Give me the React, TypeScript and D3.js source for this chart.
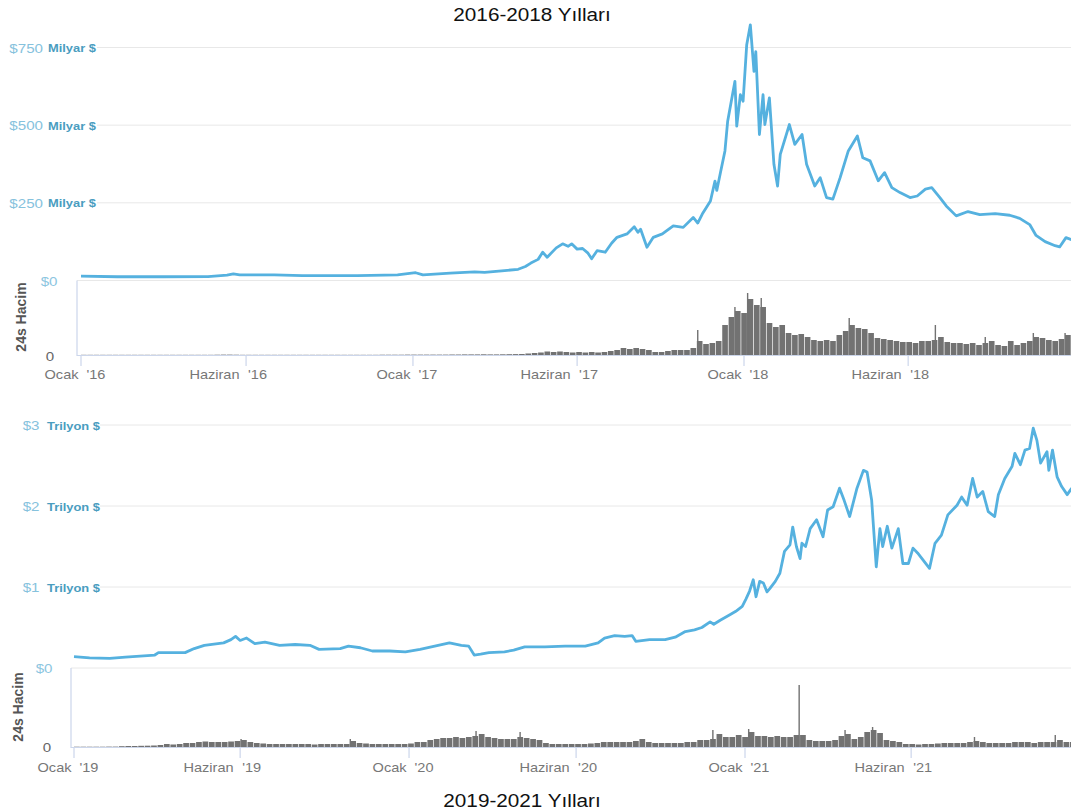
import React from "react";
import * as d3 from "d3";

// ---------- 2016-2018 data (market cap, billions USD) ----------
const topCap: [string, number][] = [
  ["2016-01-01",14],["2016-02-10",12],["2016-04-01",12],["2016-05-20",12.5],["2016-06-10",17],["2016-06-17",21],["2016-06-24",18],
  ["2016-08-01",18],["2016-09-01",15.5],["2016-11-01",16],["2016-12-15",18],["2017-01-04",25],["2017-01-12",18],["2017-02-11",24],
  ["2017-03-10",28],["2017-03-21",26],["2017-04-12",32],["2017-04-27",36],["2017-05-05",45],["2017-05-11",56],["2017-05-19",68],
  ["2017-05-24",91],["2017-05-29",75],["2017-06-08",105],["2017-06-15",118],["2017-06-21",110],["2017-06-25",118],["2017-07-01",101],
  ["2017-07-07",103],["2017-07-13",88],["2017-07-17",70],["2017-07-23",96],["2017-08-01",91],["2017-08-08",120],["2017-08-14",139],
  ["2017-08-25",150],["2017-09-02",173],["2017-09-06",155],["2017-09-09",165],["2017-09-16",107],["2017-09-23",139],["2017-10-03",150],
  ["2017-10-15",176],["2017-10-26",171],["2017-11-06",203],["2017-11-11",185],["2017-11-16",214],["2017-11-25",256],["2017-11-30",320],
  ["2017-12-02",290],["2017-12-06",347],["2017-12-11",417],["2017-12-14",513],["2017-12-19",593],["2017-12-22",641],["2017-12-24",497],
  ["2017-12-28",598],["2017-12-31",577],["2018-01-04",759],["2018-01-08",823],["2018-01-12",673],["2018-01-14",737],["2018-01-18",470],
  ["2018-01-22",598],["2018-01-24",502],["2018-01-29",588],["2018-02-03",374],["2018-02-07",304],["2018-02-10",406],["2018-02-20",502],
  ["2018-02-26",438],["2018-03-06",470],["2018-03-11",374],["2018-03-20",304],["2018-03-26",331],["2018-04-02",267],["2018-04-09",262],
  ["2018-04-17",331],["2018-04-26",417],["2018-05-06",465],["2018-05-12",395],["2018-05-20",385],["2018-05-29",321],["2018-06-05",347],
  ["2018-06-13",299],["2018-06-22",283],["2018-07-03",267],["2018-07-11",272],["2018-07-20",294],["2018-07-27",299],["2018-08-05",267],
  ["2018-08-12",240],["2018-08-23",208],["2018-09-05",222],["2018-09-18",212],["2018-10-05",215],["2018-10-21",210],["2018-11-01",200],
  ["2018-11-12",180],["2018-11-19",145],["2018-11-29",125],["2018-12-10",112],["2018-12-15",108],["2018-12-22",138],["2018-12-29",130],
];
const topVolStart = "2016-01-01";
const topVolWeekly: number[] = [
  0.2,0.2,0.2,0.2,0.2,0.2,0.2,0.2,0.2,0.2,
  0.2,0.2,0.2,0.2,0.2,0.2,0.2,0.2,0.2,0.2,
  0.2,0.3,0.4,0.4,0.3,0.2,0.2,0.2,0.2,0.2,
  0.2,0.2,0.2,0.2,0.2,0.2,0.2,0.2,0.2,0.2,
  0.2,0.2,0.2,0.2,0.2,0.2,0.2,0.3,0.3,0.3,
  0.3,0.4,0.4,0.4,0.4,0.4,0.4,0.4,0.5,0.5,
  0.6,0.6,0.6,0.7,0.6,0.6,0.7,0.8,0.9,1.0,
  1.5,2.0,2.5,3.5,3.0,3.5,3.0,2.5,3.0,2.5,
  3.0,2.5,3.0,4.0,5.0,7.0,6.0,7.0,6.0,5.0,
  3.0,3.0,4.0,5.0,5.0,5.0,7.0,14,11,12,
  14,30,38,44,42,56,50,48,32,28,
  30,22,20,21,18,15,14,15,14,20,
  24,30,27,26,22,17,16,15,14,13,
  13,12,14,14,15,18,13,12,12,11,
  12,10,12,14,10,9,14,10,12,14,
  18,17,15,14,16,20,18,
];
const topVolSpikes: [string, number][] = [
  ["2017-11-11",25],["2017-12-22",48],["2018-01-05",62],["2018-01-20",57],["2018-04-27",37],
  ["2018-07-31",30],["2018-09-24",18],["2018-11-16",22],["2018-12-21",22],
];
const topYTicks = [0, 250, 500, 750];
const topYLabels = ["$0", "$250", "$500", "$750"];
const topUnit = "Milyar $";
const topXTicks = ["2016-01-01","2016-07-01","2017-01-01","2017-07-01","2018-01-01","2018-07-01"];
const topXMonths = ["Ocak","Haziran","Ocak","Haziran","Ocak","Haziran"];
const topXYears = ["'16","'16","'17","'17","'18","'18"];
const topTitle = "2016-2018 Yılları";

// ---------- 2019-2021 data (market cap, trillions USD) ----------
const botCap: [string, number][] = [
  ["2019-01-01",0.14],["2019-01-18",0.125],["2019-02-09",0.12],["2019-02-26",0.135],["2019-03-30",0.16],["2019-04-03",0.19],
  ["2019-05-02",0.19],["2019-05-12",0.24],["2019-05-23",0.28],["2019-06-13",0.31],["2019-06-21",0.35],["2019-06-26",0.39],
  ["2019-07-01",0.34],["2019-07-08",0.37],["2019-07-17",0.30],["2019-07-28",0.32],["2019-08-13",0.28],["2019-08-30",0.29],
  ["2019-09-15",0.28],["2019-09-25",0.23],["2019-10-18",0.24],["2019-10-27",0.27],["2019-11-09",0.25],["2019-11-22",0.21],
  ["2019-12-11",0.21],["2019-12-28",0.20],["2020-01-13",0.23],["2020-01-29",0.27],["2020-02-14",0.31],["2020-02-27",0.28],
  ["2020-03-06",0.27],["2020-03-12",0.16],["2020-03-19",0.17],["2020-03-28",0.19],["2020-04-14",0.20],["2020-04-24",0.22],
  ["2020-05-06",0.26],["2020-05-28",0.26],["2020-06-19",0.27],["2020-07-11",0.27],["2020-07-25",0.31],["2020-08-01",0.37],
  ["2020-08-12",0.40],["2020-08-23",0.39],["2020-08-31",0.40],["2020-09-04",0.33],["2020-09-19",0.35],["2020-10-06",0.35],
  ["2020-10-17",0.38],["2020-10-28",0.45],["2020-11-07",0.47],["2020-11-15",0.50],["2020-11-24",0.57],["2020-11-28",0.54],
  ["2020-12-05",0.59],["2020-12-16",0.66],["2020-12-22",0.70],["2020-12-29",0.76],["2021-01-02",0.85],["2021-01-06",0.95],
  ["2021-01-10",1.09],["2021-01-13",0.88],["2021-01-17",1.07],["2021-01-21",1.05],["2021-01-25",0.94],["2021-01-28",0.98],
  ["2021-02-03",1.07],["2021-02-08",1.17],["2021-02-13",1.44],["2021-02-19",1.52],["2021-02-22",1.74],["2021-02-26",1.50],
  ["2021-03-02",1.35],["2021-03-04",1.54],["2021-03-08",1.50],["2021-03-13",1.72],["2021-03-20",1.83],["2021-03-27",1.62],
  ["2021-04-01",1.95],["2021-04-07",1.99],["2021-04-14",2.22],["2021-04-19",2.07],["2021-04-25",1.87],["2021-05-03",2.22],
  ["2021-05-10",2.44],["2021-05-14",2.42],["2021-05-19",2.07],["2021-05-21",1.74],["2021-05-24",1.25],["2021-05-28",1.72],
  ["2021-05-31",1.50],["2021-06-05",1.75],["2021-06-10",1.48],["2021-06-17",1.72],["2021-06-22",1.29],["2021-06-28",1.29],
  ["2021-07-03",1.48],["2021-07-08",1.42],["2021-07-21",1.23],["2021-07-27",1.54],["2021-08-03",1.64],["2021-08-10",1.89],
  ["2021-08-20",2.01],["2021-08-25",2.11],["2021-08-31",2.01],["2021-09-06",2.34],["2021-09-11",2.11],["2021-09-17",2.18],
  ["2021-09-23",1.93],["2021-09-30",1.87],["2021-10-04",2.14],["2021-10-11",2.34],["2021-10-19",2.49],["2021-10-22",2.65],
  ["2021-10-28",2.51],["2021-11-02",2.69],["2021-11-07",2.71],["2021-11-11",2.96],["2021-11-15",2.81],["2021-11-19",2.53],
  ["2021-11-26",2.67],["2021-11-28",2.44],["2021-12-02",2.69],["2021-12-07",2.36],["2021-12-12",2.24],["2021-12-18",2.14],
  ["2021-12-23",2.22],
];
const botVolStart = "2019-01-01";
const botVolWeekly: number[] = [
  0.3,0.3,0.3,0.3,0.3,0.4,0.4,0.8,1.0,1.0,
  1.2,1.3,1.5,2.0,3.0,2.5,3.0,4.0,4.0,5.0,
  5.5,5.0,5.0,5.0,5.5,6.0,7.0,5.0,4.0,3.5,
  3,3,3,3,3,3,3,2.5,3,3,
  3,3,3,6,4,3.5,3,3,3,3,
  3,3,3.5,5,5,7,8,9,9,10,
  9,10,11,13,10,9,8,8,8,10,
  9,8,7,4,3,3,3,3,3,3,
  3.5,4,5,5,5,5,5,6,8,5,
  4,4,4,4,4,5,5,7,7,8,
  13,10,10,12,10,15,11,11,10,11,
  10,10,12,12,7,6,6,6,7,11,
  13,8,10,15,17,14,7,6,5,3,
  3,2.5,3,3,3.5,4,4,4,4,5,
  6,5,4,4,4,4,5,5,5,4,
  5,5,5,7,5,5,
];
const botVolSpikes: [string, number][] = [
  ["2019-07-02",8],["2019-10-29",8],["2020-03-14",16],["2020-05-01",15],["2020-11-27",17],["2021-01-05",18],
  ["2021-03-01",62],["2021-04-20",17],["2021-05-20",20],["2021-09-08",10],["2021-12-05",12],
];
const botYTicks = [0, 1, 2, 3];
const botYLabels = ["$0", "$1", "$2", "$3"];
const botUnit = "Trilyon $";
const botXTicks = ["2019-01-01","2019-07-01","2020-01-01","2020-07-01","2021-01-01","2021-07-01"];
const botXMonths = ["Ocak","Haziran","Ocak","Haziran","Ocak","Haziran"];
const botXYears = ["'19","'19","'20","'20","'21","'21"];
const botTitle = "2019-2021 Yılları";

const volLabel = "24s Hacim";

// ---------- styling ----------
const W = 1071, H = 812;
const LINE = "#55b1df";
const GRID = "#e8e8e8";
const AXIS = "#ccd6eb";
const BAR = "#727272";
const FONT = "'Liberation Sans', Arial, sans-serif";
const SX = 1.12;

const parse = (s: string) => new Date(s + "T00:00:00Z");

function SText(props: { x: number; y: number; anchor?: string; size: number; fill: string; weight?: string | number; children: React.ReactNode }) {
  return (
    <text transform={`translate(${props.x},${props.y}) scale(${SX},1)`} textAnchor={props.anchor || "start"}
      fontSize={props.size} fill={props.fill} fontWeight={props.weight || "normal"} fontFamily={FONT}>
      {props.children}
    </text>
  );
}

type Layout = {
  xDom: [string, string]; xRange: [number, number];
  yMax: number; yRange: [number, number];
  vMax: number; vRange: [number, number];
  axisX: number; gridStart: number;
  valEnd: number; unitStart: number; zeroEnd: number;
  tickLen: number; labelY: number;
  zeroLabel: [number, number]; volLabelPos: [number, number];
  title: [number, number];
};

function Panel(p: {
  cap: [string, number][]; volStart: string; vol: number[]; spikes: [string, number][];
  yTicks: number[]; yLabels: string[]; unit: string;
  xTicks: string[]; months: string[]; years: string[]; title: string; L: Layout; id: string;
}) {
  const L = p.L;
  const x = d3.scaleUtc().domain(L.xDom.map(parse)).range(L.xRange);
  const y = d3.scaleLinear().domain([0, L.yMax]).range(L.yRange);
  const yv = d3.scaleLinear().domain([0, L.vMax]).range(L.vRange);
  const base = L.vRange[0];
  const line = d3.line<[string, number]>().x(d => x(parse(d[0]))).y(d => y(d[1]));
  const start = parse(p.volStart);
  const bars = p.vol.map((v, i) => {
    const d0 = d3.utcDay.offset(start, 7 * i);
    const d1 = d3.utcDay.offset(start, 7 * (i + 1));
    const x0 = x(d0), x1 = x(d1);
    return <rect key={"b" + i} x={x0} width={Math.max(0.5, x1 - x0 - 0.7)} y={yv(v)} height={base - yv(v)} fill={BAR} />;
  });
  const spikes = p.spikes.map((s, i) => (
    <rect key={"s" + i} x={x(parse(s[0])) - 0.7} width={1.4} y={yv(s[1])} height={base - yv(s[1])} fill={BAR} />
  ));
  return (
    <g>
      <defs>
        <clipPath id={"clip" + p.id}>
          <rect x={L.axisX} y={0} width={W - L.axisX} height={H} />
        </clipPath>
      </defs>
      {p.yTicks.map((t, i) => (
        <line key={"g" + i} x1={t === 0 ? L.axisX : L.gridStart} x2={W} y1={y(t)} y2={y(t)} stroke={GRID} strokeWidth={1} />
      ))}
      {p.yTicks.map((t, i) => t === 0 ? (
        <SText key={"yl" + i} x={L.zeroEnd} y={y(t) + 5} anchor="end" size={13.5} fill="#8cc6df">{p.yLabels[i]}</SText>
      ) : (
        <g key={"yl" + i}>
          <SText x={L.valEnd} y={y(t) + 5} anchor="end" size={13.5} fill="#86c2dd">{p.yLabels[i]}</SText>
          <SText x={L.unitStart} y={y(t) + 4.5} size={11.5} weight="bold" fill="#4a9dbf">{p.unit}</SText>
        </g>
      ))}
      <g clipPath={`url(#clip${p.id})`}>
        {bars}
        {spikes}
      </g>
      <line x1={L.axisX} x2={L.axisX} y1={L.yRange[0]} y2={base + 1} stroke={AXIS} strokeWidth={1.2} />
      <line x1={L.axisX} x2={W} y1={base + 0.5} y2={base + 0.5} stroke={AXIS} strokeWidth={1.2} />
      <SText x={L.zeroLabel[0]} y={L.zeroLabel[1]} anchor="middle" size={13.5} fill="#666">0</SText>
      <text transform={`translate(${L.volLabelPos[0]},${L.volLabelPos[1]}) rotate(-90)`} textAnchor="middle"
        fontSize={14} fontWeight="bold" fill="#555" fontFamily={FONT}>{volLabel}</text>
      <path d={line(p.cap) || ""} fill="none" stroke={LINE} strokeWidth={2.8} strokeLinejoin="round" clipPath={`url(#clip${p.id})`} />
      {p.xTicks.map((t, i) => {
        const xt = x(parse(t));
        const ocak = p.months[i] === "Ocak";
        return (
          <g key={"xt" + i}>
            <line x1={xt} x2={xt} y1={base + 1} y2={base + 1 + L.tickLen} stroke={AXIS} strokeWidth={1.2} />
            <SText x={xt + (ocak ? -2.5 : -6.5)} y={L.labelY} anchor="end" size={13} fill="#777">{p.months[i]}</SText>
            <SText x={xt + (ocak ? 5.5 : 2)} y={L.labelY} size={13} fill="#777">{p.years[i]}</SText>
          </g>
        );
      })}
      <SText x={L.title[0]} y={L.title[1]} anchor="middle" size={18.5} fill="#111">{p.title}</SText>
    </g>
  );
}

const topLayout: Layout = {
  xDom: ["2016-01-01", "2018-01-01"], xRange: [81, 744],
  yMax: 750, yRange: [280.5, 47.5],
  vMax: 70, vRange: [355, 285],
  axisX: 77, gridStart: 97,
  valEnd: 43, unitStart: 48, zeroEnd: 57.5,
  tickLen: 10, labelY: 379,
  zeroLabel: [50, 360.5], volLabelPos: [26, 317],
  title: [532, 20.5],
};
const botLayout: Layout = {
  xDom: ["2019-01-01", "2021-01-01"], xRange: [74, 745],
  yMax: 3, yRange: [668, 425],
  vMax: 76, vRange: [747, 671],
  axisX: 71, gridStart: 100,
  valEnd: 39.5, unitStart: 47, zeroEnd: 52.5,
  tickLen: 10, labelY: 772,
  zeroLabel: [47, 752], volLabelPos: [23, 707],
  title: [522, 807],
};

export default function App() {
  return (
    <>
      <style>{"body{margin:0;background:#fff}"}</style>
      <svg width={W} height={H} style={{ display: "block", background: "#fff" }}>
        <Panel id="t" cap={topCap} volStart={topVolStart} vol={topVolWeekly} spikes={topVolSpikes}
          yTicks={topYTicks} yLabels={topYLabels} unit={topUnit}
          xTicks={topXTicks} months={topXMonths} years={topXYears} title={topTitle} L={topLayout} />
        <Panel id="b" cap={botCap} volStart={botVolStart} vol={botVolWeekly} spikes={botVolSpikes}
          yTicks={botYTicks} yLabels={botYLabels} unit={botUnit}
          xTicks={botXTicks} months={botXMonths} years={botXYears} title={botTitle} L={botLayout} />
      </svg>
    </>
  );
}
